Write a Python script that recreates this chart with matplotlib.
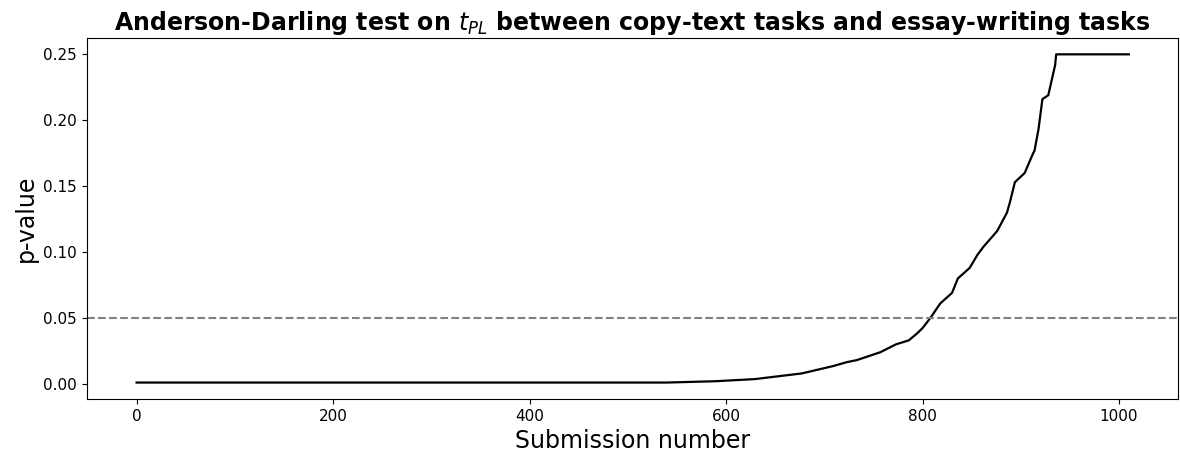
import matplotlib
matplotlib.use("Agg")
import matplotlib.pyplot as plt

# Sorted Anderson-Darling p-values per submission (floored at 0.001, capped at 0.25)
submission = [0, 540, 589, 629, 677, 709, 723, 733, 757, 773, 786, 794, 800, 808,
              818, 830, 836, 848, 856, 862, 876, 886, 889, 894, 904, 912, 914,
              918, 922, 928, 935, 936, 1010]
p_values = [0.001, 0.001, 0.002, 0.0036, 0.0079, 0.0135, 0.0165, 0.018, 0.024,
            0.030, 0.033, 0.038, 0.0423, 0.050, 0.061, 0.069, 0.080, 0.088, 0.098,
            0.104, 0.116, 0.130, 0.138, 0.153, 0.160, 0.174, 0.177, 0.193, 0.216,
            0.219, 0.242, 0.25, 0.25]
alpha = 0.05

fig = plt.figure(figsize=(11.8, 4.57), dpi=100)
ax = fig.add_axes([0.0737, 0.127, 0.925, 0.79])

ax.plot(submission, p_values, color="black", linewidth=1.6)
ax.axhline(alpha, color="gray", linestyle="--", linewidth=1.5)

ax.set_xticks([0, 200, 400, 600, 800, 1000])
ax.set_yticks([0.00, 0.05, 0.10, 0.15, 0.20, 0.25])
ax.tick_params(labelsize=11)
ax.set_xlabel("Submission number", fontsize=17)
ax.set_ylabel("p-value", fontsize=17)
ax.set_title(r"Anderson-Darling test on $t_{PL}$ between copy-text tasks and essay-writing tasks",
             fontsize=17, fontweight="bold")

fig.savefig("out.png", dpi=100)
